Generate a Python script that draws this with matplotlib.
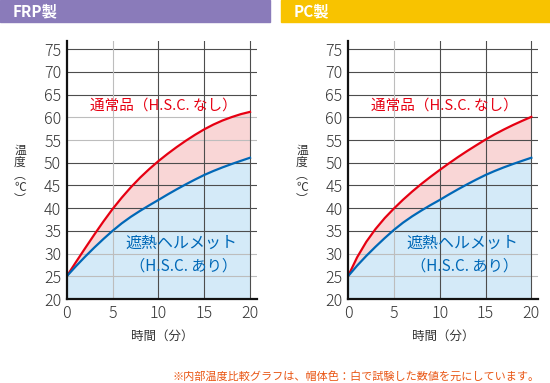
import matplotlib
matplotlib.use("Agg")
import matplotlib.pyplot as plt
from matplotlib.patches import Rectangle

plt.rcParams['font.family'] = ['Noto Sans CJK JP', 'DejaVu Sans']

# 時間(分)
t = list(range(21))

# FRP製
frp_normal = [25, 28.1, 31.15, 34.15, 37.05, 39.8, 42.3, 44.6, 46.7, 48.6, 50.35,
              51.95, 53.45, 54.85, 56.15, 57.35, 58.4, 59.3, 60.05, 60.7, 61.2]
frp_hsc = [25, 27.2, 29.3, 31.3, 33.2, 35.0, 36.65, 38.1, 39.4, 40.62, 41.8,
           43.0, 44.15, 45.25, 46.3, 47.3, 48.18, 48.98, 49.72, 50.42, 51.1]

# PC製
pc_normal = [25, 29.2, 32.6, 35.4, 37.8, 39.9, 41.85, 43.65, 45.33, 46.9, 48.4,
             49.85, 51.25, 52.58, 53.85, 55.1, 56.25, 57.31, 58.3, 59.22, 60.1]
pc_hsc = [25, 27.35, 29.5, 31.5, 33.4, 35.2, 36.8, 38.2, 39.47, 40.67, 41.8,
          43.0, 44.15, 45.25, 46.3, 47.3, 48.18, 48.98, 49.72, 50.42, 51.1]

yticks = [20, 25, 30, 35, 40, 45, 50, 55, 60, 65, 70, 75]
xticks = [0, 5, 10, 15, 20]

RED = "#e60012"
BLUE = "#0068b7"
PINK = "#f9d6d6"
SKY = "#d4eaf8"
GRID = "#4d4d4d"
LIGHT = "#bdbdbd"
TXT = "#333333"

fig = plt.figure(figsize=(5.5, 3.83), dpi=100)

# header bars
fig.patches.append(Rectangle((0, 1 - 22 / 383), 270 / 550, 22 / 383,
                             transform=fig.transFigure, color="#8a7bba", zorder=0))
fig.patches.append(Rectangle((281 / 550, 1 - 22 / 383), 269 / 550, 22 / 383,
                             transform=fig.transFigure, color="#f8c300", zorder=0))
fig.text(13 / 550, 1 - 11 / 383, "FRP製", color="white", fontsize=11,
         fontweight="bold", va="center", ha="left")
fig.text(294 / 550, 1 - 11 / 383, "PC製", color="white", fontsize=11,
         fontweight="bold", va="center", ha="left")


def draw(ax, x, normal, hsc, light_rows):
    ax.fill_between(x, 20, hsc, color=SKY, lw=0, zorder=1)
    ax.fill_between(x, hsc, normal, color=PINK, lw=0, zorder=1)
    for y in yticks[1:]:
        ax.axhline(y, color=LIGHT if y in light_rows else GRID, lw=0.8, zorder=2)
    for xv in xticks[1:]:
        ax.axvline(xv, color=LIGHT if xv == 5 else GRID, lw=0.8, zorder=2)
    ax.plot(x, normal, color=RED, lw=1.6, zorder=3)
    ax.plot(x, hsc, color=BLUE, lw=1.6, zorder=3)
    ax.set_xlim(0, 20.76)
    ax.set_ylim(20, 76.8)
    ax.set_xticks(xticks)
    ax.set_yticks(yticks)
    ax.tick_params(length=0, labelsize=11.5, colors=TXT, pad=4)
    for lab in ax.get_xticklabels() + ax.get_yticklabels():
        lab.set_fontweight("light")
    for s in ["top", "right"]:
        ax.spines[s].set_visible(False)
    for s in ["left", "bottom"]:
        ax.spines[s].set_linewidth(1.6)
        ax.spines[s].set_color("#111111")
        ax.spines[s].set_zorder(4)
    ax.text(10.5, 62.6, "通常品（H.S.C. なし）", color=RED, fontsize=10.5,
            ha="center", va="center", zorder=4)
    ax.text(12.5, 32.3, "遮熱ヘルメット", color=BLUE, fontsize=11.5,
            ha="center", va="center", zorder=4)
    ax.text(12.7, 27.2, "（H.S.C. あり）", color=BLUE, fontsize=11,
            ha="center", va="center", zorder=4)
    ax.set_xlabel("時間（分）", fontsize=9, color=TXT, labelpad=6)


ax1 = fig.add_axes([66.7 / 550, 84 / 383, 190.3 / 550, 258 / 383])
draw(ax1, t, frp_normal, frp_hsc, [25, 30, 55, 60])
ax2 = fig.add_axes([348 / 550, 84 / 383, 190.3 / 550, 258 / 383])
draw(ax2, t, pc_normal, pc_hsc, [25, 30])

# y labels (vertical writing)
for xp in [20, 302]:
    fig.text(xp / 550, 1 - 175 / 383, "温\n度\n︵\n℃\n︶", fontsize=8.5,
             color=TXT, ha="center", va="center", linespacing=0.95)

fig.text(540 / 550, 1 - 376 / 383,
         "※内部温度比較グラフは、帽体色：白で試験した数値を元にしています。",
         color="#e95513", fontsize=8, ha="right", va="center")

fig.savefig("out.png", dpi=100)
